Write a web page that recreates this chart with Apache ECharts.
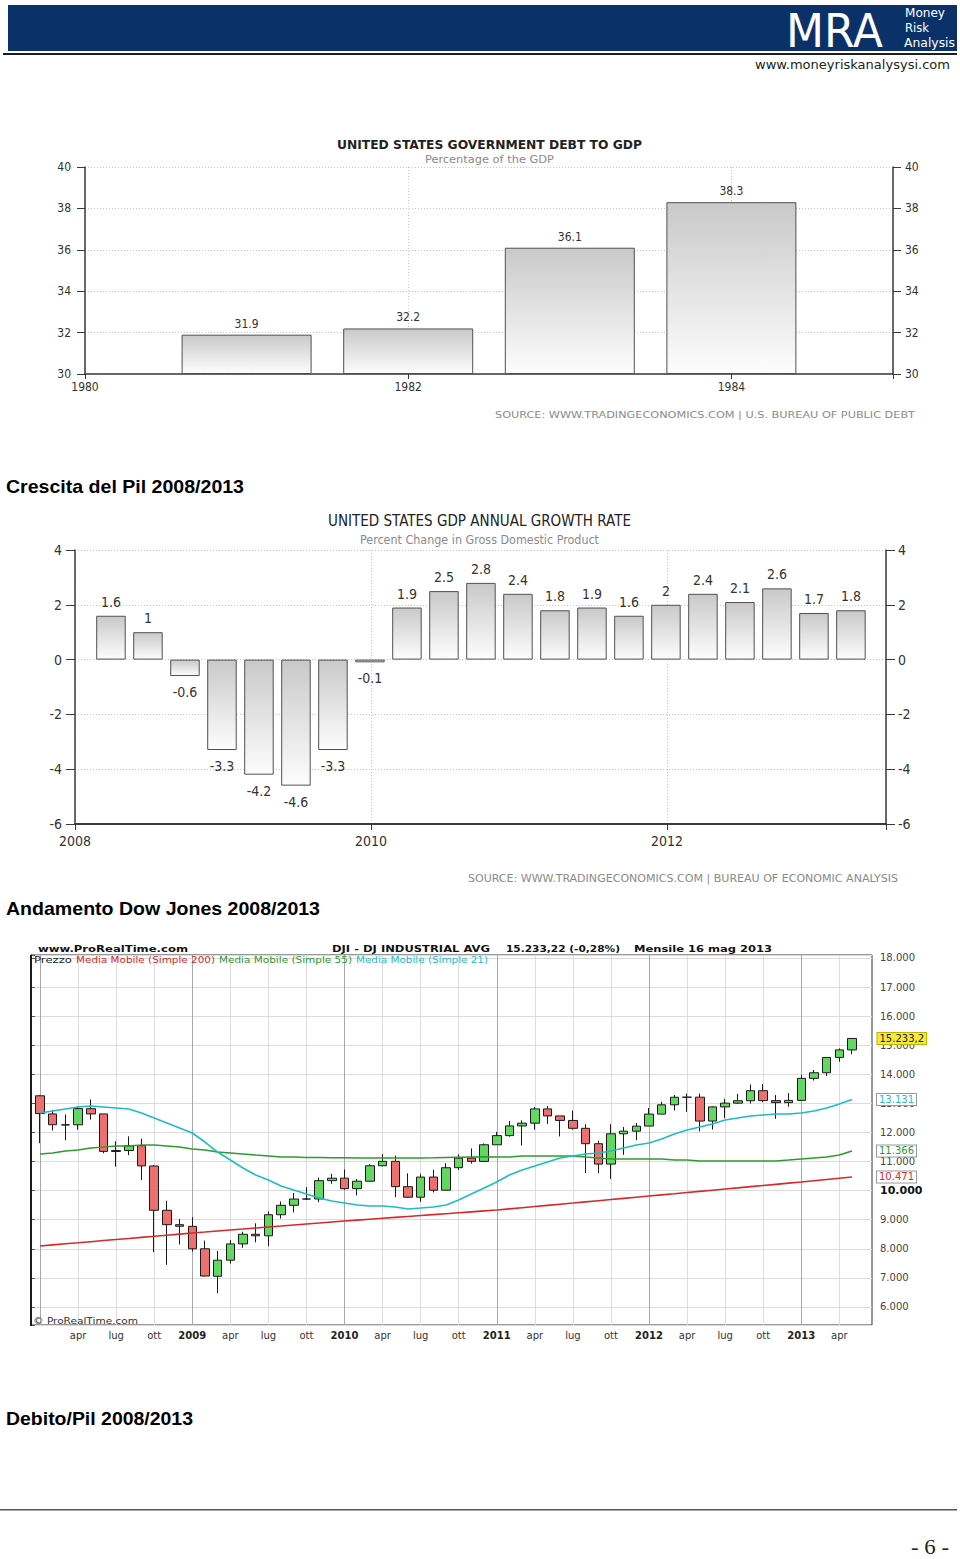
<!DOCTYPE html>
<html><head><meta charset="utf-8"><title>MRA - pagina 6</title>
<script src="https://cdn.jsdelivr.net/npm/echarts@6.0.0/dist/echarts.min.js"></script>
<style>
html,body{margin:0;padding:0;background:#fff;}
#page{position:relative;width:960px;height:1559px;overflow:hidden;background:#fff;}
#chart{position:absolute;left:0;top:0;width:960px;height:1559px;}
#overlay{position:absolute;left:0;top:0;width:960px;height:1559px;pointer-events:none;}
</style></head><body>
<div id="page">
<div id="chart"></div>
<svg id="overlay" width="960" height="1559" xmlns="http://www.w3.org/2000/svg">
  <rect x="8" y="5" width="949" height="46" fill="#0b3268"/>
  <rect x="3" y="53" width="954" height="2" fill="#1e1e1e"/>
  <text x="786" y="47" font-family="'DejaVu Sans',sans-serif" font-size="47" fill="#ffffff" textLength="97" lengthAdjust="spacingAndGlyphs">MRA</text>
  <text x="905" y="17" font-family="'DejaVu Sans',sans-serif" font-size="12" fill="#ffffff" textLength="40" lengthAdjust="spacingAndGlyphs">Money</text>
  <text x="905" y="32" font-family="'DejaVu Sans',sans-serif" font-size="12" fill="#ffffff" textLength="24" lengthAdjust="spacingAndGlyphs">Risk</text>
  <text x="904" y="47" font-family="'DejaVu Sans',sans-serif" font-size="12" fill="#ffffff" textLength="51" lengthAdjust="spacingAndGlyphs">Analysis</text>
  <text x="755" y="69" font-family="'DejaVu Sans',sans-serif" font-size="13" fill="#222" textLength="195" lengthAdjust="spacingAndGlyphs">www.moneyriskanalysysi.com</text>

  <text x="337" y="148.5" font-family="'DejaVu Sans Condensed','Liberation Sans Narrow','DejaVu Sans',sans-serif" font-weight="bold" font-size="12" fill="#222" textLength="305" lengthAdjust="spacingAndGlyphs">UNITED STATES GOVERNMENT DEBT TO GDP</text>
  <text x="425" y="162.5" font-family="'DejaVu Sans Condensed','Liberation Sans Narrow','DejaVu Sans',sans-serif" font-size="10" fill="#8a8a8a" textLength="129" lengthAdjust="spacingAndGlyphs">Percentage of the GDP</text>
  <text x="495" y="418" font-family="'DejaVu Sans Condensed','Liberation Sans Narrow','DejaVu Sans',sans-serif" font-size="9" fill="#8a8a8a" textLength="420" lengthAdjust="spacingAndGlyphs">SOURCE:  WWW.TRADINGECONOMICS.COM  |  U.S.  BUREAU  OF  PUBLIC  DEBT</text>

  <text x="6" y="493" font-family="'Liberation Sans',Arial,sans-serif" font-weight="bold" font-size="19" fill="#000" textLength="238" lengthAdjust="spacingAndGlyphs">Crescita del Pil 2008/2013</text>

  <text x="328" y="526" font-family="'DejaVu Sans Condensed','Liberation Sans Narrow','DejaVu Sans',sans-serif" font-size="16" fill="#222" textLength="303" lengthAdjust="spacingAndGlyphs">UNITED STATES GDP ANNUAL GROWTH RATE</text>
  <text x="360" y="544" font-family="'DejaVu Sans Condensed','Liberation Sans Narrow','DejaVu Sans',sans-serif" font-size="11.5" fill="#8a8a8a" textLength="239" lengthAdjust="spacingAndGlyphs">Percent Change in Gross Domestic Product</text>
  <text x="468" y="881.5" font-family="'DejaVu Sans Condensed','Liberation Sans Narrow','DejaVu Sans',sans-serif" font-size="10.5" fill="#8a8a8a" textLength="430" lengthAdjust="spacingAndGlyphs">SOURCE:  WWW.TRADINGECONOMICS.COM  |  BUREAU  OF  ECONOMIC  ANALYSIS</text>

  <text x="6" y="915" font-family="'Liberation Sans',Arial,sans-serif" font-weight="bold" font-size="19" fill="#000" textLength="314" lengthAdjust="spacingAndGlyphs">Andamento Dow Jones 2008/2013</text>

  <text x="38" y="951.5" font-family="'DejaVu Sans',Verdana,sans-serif" font-weight="bold" font-size="9.5" fill="#111" textLength="150" lengthAdjust="spacingAndGlyphs">www.ProRealTime.com</text>
  <text x="332" y="951.5" font-family="'DejaVu Sans',Verdana,sans-serif" font-weight="bold" font-size="9.5" fill="#111" textLength="158" lengthAdjust="spacingAndGlyphs">DJI - DJ INDUSTRIAL AVG</text>
  <text x="506" y="951.5" font-family="'DejaVu Sans',Verdana,sans-serif" font-weight="bold" font-size="9.5" fill="#111" textLength="114" lengthAdjust="spacingAndGlyphs">15.233,22 (-0,28%)</text>
  <text x="634" y="951.5" font-family="'DejaVu Sans',Verdana,sans-serif" font-weight="bold" font-size="9.5" fill="#111" textLength="138" lengthAdjust="spacingAndGlyphs">Mensile  16 mag 2013</text>

  <text x="34" y="963" font-family="'DejaVu Sans',Verdana,sans-serif" font-size="8.5" fill="#222" textLength="38" lengthAdjust="spacingAndGlyphs">Prezzo</text>
  <text x="76" y="963" font-family="'DejaVu Sans',Verdana,sans-serif" font-size="8.5" fill="#d42a2a" textLength="139" lengthAdjust="spacingAndGlyphs">Media Mobile (Simple 200)</text>
  <text x="219" y="963" font-family="'DejaVu Sans',Verdana,sans-serif" font-size="8.5" fill="#2f9a2f" textLength="133" lengthAdjust="spacingAndGlyphs">Media Mobile (Simple 55)</text>
  <text x="356" y="963" font-family="'DejaVu Sans',Verdana,sans-serif" font-size="8.5" fill="#1fbcc4" textLength="132" lengthAdjust="spacingAndGlyphs">Media Mobile (Simple 21)</text>
  <text x="33" y="1323.5" font-family="'DejaVu Sans',Verdana,sans-serif" font-size="8.5" fill="#333" textLength="105" lengthAdjust="spacingAndGlyphs">© ProRealTime.com</text>
  <rect x="30" y="955" width="2" height="371" fill="#1a1a1a"/>

  <text x="6" y="1425" font-family="'Liberation Sans',Arial,sans-serif" font-weight="bold" font-size="19" fill="#000" textLength="187" lengthAdjust="spacingAndGlyphs">Debito/Pil 2008/2013</text>

  <rect x="0" y="1509" width="957" height="1.5" fill="#555"/>
  <text x="911" y="1554" font-family="'Liberation Serif','DejaVu Serif',serif" font-size="20" fill="#222" textLength="38" lengthAdjust="spacingAndGlyphs">- 6 -</text>
</svg>
</div>
<script>
// ---------- Chart 1: government debt to GDP ----------
const debtYears = [1981, 1982, 1983, 1984];
const debtValues = [31.9, 32.2, 36.1, 38.3];

// ---------- Chart 2: GDP annual growth rate (quarterly) ----------
const gdpQuarters = ['2008 Q1','2008 Q2','2008 Q3','2008 Q4','2009 Q1','2009 Q2','2009 Q3','2009 Q4',
  '2010 Q1','2010 Q2','2010 Q3','2010 Q4','2011 Q1','2011 Q2','2011 Q3','2011 Q4',
  '2012 Q1','2012 Q2','2012 Q3','2012 Q4','2013 Q1'];
const gdpValues = [1.6, 1, -0.6, -3.3, -4.2, -4.6, -3.3, -0.1, 1.9, 2.5, 2.8, 2.4, 1.8, 1.9, 1.6, 2, 2.4, 2.1, 2.6, 1.7, 1.8];

// ---------- Chart 3: Dow Jones monthly ----------
const djiMonths = ['2008-01','2008-02','2008-03','2008-04','2008-05','2008-06','2008-07','2008-08','2008-09','2008-10','2008-11','2008-12',
  '2009-01','2009-02','2009-03','2009-04','2009-05','2009-06','2009-07','2009-08','2009-09','2009-10','2009-11','2009-12',
  '2010-01','2010-02','2010-03','2010-04','2010-05','2010-06','2010-07','2010-08','2010-09','2010-10','2010-11','2010-12',
  '2011-01','2011-02','2011-03','2011-04','2011-05','2011-06','2011-07','2011-08','2011-09','2011-10','2011-11','2011-12',
  '2012-01','2012-02','2012-03','2012-04','2012-05','2012-06','2012-07','2012-08','2012-09','2012-10','2012-11','2012-12',
  '2013-01','2013-02','2013-03','2013-04','2013-05'];
const djiOpen = [13262, 12638, 12259, 12264, 12818, 12638, 11347, 11378, 11546, 10847, 9325, 8829,
  8772, 8001, 7056, 7609, 8168, 8500, 8447, 9172, 9496, 9712, 9713, 10344,
  10430, 10068, 10325, 10857, 11009, 10137, 9774, 10468, 10016, 10789, 11120, 11006,
  11577, 11892, 12226, 12320, 12811, 12570, 12414, 12143, 11614, 10913, 11955, 12046,
  12221, 12632, 12952, 13212, 13214, 12393, 12880, 13009, 13091, 13437, 13096, 13026,
  13104, 13861, 14054, 14580, 14840];
const djiClose = [12650, 12266, 12263, 12820, 12638, 11350, 11378, 11544, 10851, 9325, 8829, 8776,
  8001, 7063, 7609, 8168, 8500, 8447, 9172, 9496, 9712, 9713, 10344, 10428,
  10067, 10325, 10857, 11009, 10137, 9774, 10466, 10015, 10788, 11118, 11006, 11578,
  11892, 12226, 12320, 12811, 12570, 12414, 12143, 11614, 10913, 11955, 12046, 12218,
  12633, 12952, 13212, 13214, 12393, 12880, 13009, 13091, 13437, 13096, 13026, 13104,
  13861, 14054, 14579, 14840, 15233.22];
const djiLow = [11635, 12069, 11732, 12093, 12443, 11287, 10828, 11222, 10365, 7883, 7449, 8149,
  7909, 7050, 6470, 7490, 8035, 8222, 8087, 9040, 9252, 9678, 9601, 10236,
  10034, 9835, 10314, 10835, 9774, 9757, 9614, 9937, 10015, 10711, 10929, 11006,
  11576, 11852, 11555, 12094, 12298, 11862, 12093, 10605, 10597, 10404, 11231, 11735,
  12218, 12630, 12756, 12710, 12035, 12101, 12492, 12978, 12994, 13036, 12471, 12884,
  13104, 13784, 13937, 14434, 14688];
const djiHigh = [13280, 12768, 12622, 12892, 13137, 12638, 11698, 11867, 11790, 10883, 9654, 9026,
  9088, 8281, 7924, 8302, 8588, 8877, 9288, 9631, 9918, 10119, 10450, 10580,
  10729, 10401, 10907, 11258, 11205, 10595, 10581, 10720, 10948, 11246, 11452, 11625,
  12021, 12392, 12419, 12876, 12907, 12570, 12753, 12285, 11717, 12284, 12187, 12330,
  12842, 13055, 13289, 13338, 13339, 12898, 13159, 13330, 13653, 13662, 13290, 13354,
  13969, 14149, 14585, 14888, 15251];
const ma200 = [8096, 8135, 8172, 8208, 8245, 8283, 8320, 8356, 8394, 8430, 8468, 8505,
  8543, 8577, 8612, 8646, 8680, 8715, 8749, 8783, 8818, 8852, 8886, 8921,
  8955, 8987, 9018, 9050, 9081, 9113, 9145, 9176, 9208, 9240, 9271, 9303,
  9334, 9374, 9414, 9454, 9494, 9534, 9574, 9615, 9655, 9695, 9735, 9775,
  9815, 9855, 9895, 9936, 9976, 10016, 10056, 10096, 10137, 10177, 10217, 10257,
  10297, 10340, 10384, 10428, 10471];
const ma55 = [11260, 11294, 11363, 11397, 11466, 11500, 11535, 11535, 11569, 11569, 11535, 11500,
  11432, 11397, 11328, 11294, 11260, 11225, 11191, 11156, 11156, 11140, 11140, 11130,
  11130, 11125, 11125, 11122, 11122, 11122, 11125, 11130, 11140, 11150, 11156, 11160,
  11156, 11156, 11191, 11191, 11191, 11191, 11191, 11156, 11122, 11088, 11088, 11088,
  11088, 11088, 11053, 11053, 11019, 11019, 11019, 11019, 11019, 11019, 11019, 11053,
  11088, 11122, 11156, 11225, 11366];
const ma21 = [12670, 12738, 12807, 12876, 12910, 12876, 12842, 12807, 12670, 12498, 12326, 12154,
  11982, 11672, 11328, 11053, 10778, 10537, 10365, 10159, 10021, 9884, 9746, 9643,
  9574, 9505, 9471, 9471, 9437, 9368, 9402, 9437, 9505, 9677, 9884, 10090,
  10297, 10537, 10709, 10847, 10984, 11122, 11191, 11259, 11294, 11363, 11466, 11569,
  11638, 11775, 11947, 12085, 12188, 12291, 12429, 12498, 12567, 12601, 12635, 12635,
  12670, 12738, 12842, 12979, 13131];
const monthNames = ['gen','feb','mar','apr','mag','giu','lug','ago','set','ott','nov','dic'];

// ---------- helpers ----------
const COND = "'DejaVu Sans Condensed','Liberation Sans Narrow','Roboto Condensed','DejaVu Sans',sans-serif";
const VERD = "'DejaVu Sans',Verdana,sans-serif";
const AX = '#3a3a3a';
function qPos(s){ const p = s.split(' Q'); return Number(p[0]) + Number(p[1]) * 0.25 - 0.007; }
function thou(v){ const k = Math.floor(v / 1000), r = Math.round(v % 1000); return k + '.' + String(r).padStart(3, '0'); }
function barGrad(){ return new echarts.graphic.LinearGradient(0, 0, 0, 1, [{offset:0, color:'#c9c9c9'}, {offset:1, color:'#fdfdfd'}]); }
const dotted = {show:true, lineStyle:{color:'#c4c4c4', type:[1,2], width:1}};

const chart = echarts.init(document.getElementById('chart'), null, {renderer:'svg', width:960, height:1559});

const option = {
  animation:false,
  backgroundColor:'transparent',
  grid:[
    {left:85, top:167, width:808, height:207},
    {left:75, top:550, width:811, height:274},
    {left:31, top:955, width:841, height:370, show:true, borderColor:'#333', borderWidth:1, backgroundColor:'rgba(0,0,0,0)'},
    {left:40, top:955, width:812, height:370}
  ],
  xAxis:[
    {gridIndex:0, type:'value', min:1980, max:1985, interval:2,
     axisLine:{show:true, onZero:false, lineStyle:{color:AX, width:1.5}},
     axisTick:{show:true, length:5, lineStyle:{color:AX}},
     axisLabel:{margin:7, fontSize:12, color:'#333', fontFamily:COND, formatter:v => (v % 2 === 0 ? String(v) : '')},
     splitLine:dotted},
    {gridIndex:1, type:'value', min:2008, max:2013.48, interval:2,
     axisLine:{show:true, onZero:false, lineStyle:{color:AX, width:2}},
     axisTick:{show:true, length:6, lineStyle:{color:AX}},
     axisLabel:{margin:10, fontSize:14, color:'#333', fontFamily:COND, formatter:v => (v % 2 === 0 ? String(v) : '')},
     splitLine:dotted},
    {gridIndex:2, type:'value', min:0, max:1, show:false},
    {gridIndex:3, type:'category', data:djiMonths, boundaryGap:false,
     axisLine:{show:false}, axisTick:{show:false},
     axisLabel:{interval:(i) => i > 0 && i % 3 === 0, margin:5, fontSize:10, color:'#333', fontFamily:VERD,
       formatter:(v) => { const p = v.split('-'); const m = Number(p[1]); return m === 1 ? '{y|' + p[0] + '}' : monthNames[m - 1]; },
       rich:{y:{fontWeight:'bold', fontSize:10, color:'#222', fontFamily:VERD}}},
     splitLine:{show:true, interval:(i) => i % 3 === 0, lineStyle:{color:['#a9a9a9','#dcdcdc','#dcdcdc','#dcdcdc'], width:1}}}
  ],
  yAxis:[
    {gridIndex:0, type:'value', min:30, max:40, interval:2, startValue:30, position:'left',
     axisLine:{show:true, lineStyle:{color:AX, width:1.5}}, axisTick:{show:true, length:8, lineStyle:{color:AX}},
     axisLabel:{margin:14, fontSize:12, color:'#333', fontFamily:COND}, splitLine:dotted},
    {gridIndex:0, type:'value', min:30, max:40, interval:2, startValue:30, position:'right',
     axisLine:{show:true, lineStyle:{color:AX, width:1.5}}, axisTick:{show:true, length:8, lineStyle:{color:AX}},
     axisLabel:{margin:12, fontSize:12, color:'#333', fontFamily:COND}, splitLine:{show:false}},
    {gridIndex:1, type:'value', min:-6, max:4, interval:2, position:'left',
     axisLine:{show:true, lineStyle:{color:AX, width:1.5}}, axisTick:{show:true, length:9, lineStyle:{color:AX}},
     axisLabel:{margin:13, fontSize:14, color:'#333', fontFamily:COND}, splitLine:dotted},
    {gridIndex:1, type:'value', min:-6, max:4, interval:2, position:'right',
     axisLine:{show:true, lineStyle:{color:AX, width:1.5}}, axisTick:{show:true, length:9, lineStyle:{color:AX}},
     axisLabel:{margin:12, fontSize:14, color:'#333', fontFamily:COND}, splitLine:{show:false}},
    {gridIndex:2, type:'value', min:5380, max:18103, splitNumber:12, position:'right',
     axisLine:{show:true, lineStyle:{color:'#333', width:1}}, axisTick:{show:true, length:4, lineStyle:{color:'#555'}},
     axisLabel:{margin:8, fontSize:10, color:'#444', fontFamily:VERD,
       formatter:(v) => (Math.round(v) % 1000 !== 0 ? '' : (v === 10000 ? '{b|' + thou(v) + '}' : thou(v))),
       rich:{b:{fontWeight:'bold', fontSize:11, color:'#111', fontFamily:VERD}}},
     splitLine:{show:true, lineStyle:{color:'#dcdcdc', width:1}}},
    {gridIndex:3, type:'value', min:5380, max:18103, splitNumber:12, show:false}
  ],
  series:[
    {type:'bar', name:'Debt to GDP', xAxisIndex:0, yAxisIndex:0, barWidth:130,
     data:debtYears.map((y, i) => [y, debtValues[i]]),
     itemStyle:{color:barGrad(), borderColor:'#505050', borderWidth:1},
     label:{show:true, position:'top', distance:5, fontSize:12, color:'#333', fontFamily:COND, formatter:p => String(p.value[1])}},
    {type:'bar', name:'GDP growth', xAxisIndex:1, yAxisIndex:2, barWidth:29.5,
     data:gdpQuarters.map((q, i) => ({value:[qPos(q), gdpValues[i]],
       label:{position:gdpValues[i] < 0 ? 'bottom' : 'top', distance:gdpValues[i] < 0 ? 9 : 7}})),
     itemStyle:{color:barGrad(), borderColor:'#505050', borderWidth:1},
     label:{show:true, fontSize:14, color:'#333', fontFamily:COND, formatter:p => String(p.value[1])}},
    {type:'candlestick', name:'Prezzo', xAxisIndex:3, yAxisIndex:5, clip:false, barWidth:9, z:2,
     data:djiMonths.map((m, i) => [djiOpen[i], djiClose[i], djiLow[i], djiHigh[i]]),
     itemStyle:{color:'#62d862', color0:'#ec7070', borderColor:'#1a1a1a', borderColor0:'#1a1a1a', borderColorDoji:'#1a1a1a', borderWidth:1},
     markPoint:{symbol:'rect', symbolSize:[1,1], itemStyle:{color:'rgba(0,0,0,0)'}, z:10,
       data:[{coord:[djiMonths[djiMonths.length - 1], djiClose[djiClose.length - 1]]}],
       label:{show:true, position:'right', distance:25, fontSize:10, color:'#222', fontFamily:VERD,
         backgroundColor:'#f4ea3c', borderColor:'#c4b000', borderWidth:1, padding:[1,2,0,2],
         formatter:() => { const v = djiClose[djiClose.length - 1]; return thou(Math.floor(v)) + ',' + Math.round((v % 1) * 10); }}}},
    {type:'line', name:'Media Mobile (Simple 200)', xAxisIndex:3, yAxisIndex:5, data:ma200, symbol:'none', clip:false, z:3,
     lineStyle:{color:'#d42a2a', width:1.6}, itemStyle:{color:'#d42a2a'},
     endLabel:{show:true, distance:25, formatter:() => thou(ma200[ma200.length - 1]), fontSize:10, color:'#d42a2a', fontFamily:VERD,
       backgroundColor:'#fff', borderColor:'#999', borderWidth:1, padding:[1,2,0,2]}},
    {type:'line', name:'Media Mobile (Simple 55)', xAxisIndex:3, yAxisIndex:5, data:ma55, symbol:'none', clip:false, z:3,
     lineStyle:{color:'#2f9a2f', width:1.6}, itemStyle:{color:'#2f9a2f'},
     endLabel:{show:true, distance:25, formatter:() => thou(ma55[ma55.length - 1]), fontSize:10, color:'#2f9a2f', fontFamily:VERD,
       backgroundColor:'#fff', borderColor:'#999', borderWidth:1, padding:[1,2,0,2]}},
    {type:'line', name:'Media Mobile (Simple 21)', xAxisIndex:3, yAxisIndex:5, data:ma21, symbol:'none', clip:false, z:3,
     lineStyle:{color:'#1fbcc4', width:1.6}, itemStyle:{color:'#1fbcc4'},
     endLabel:{show:true, distance:25, formatter:() => thou(ma21[ma21.length - 1]), fontSize:10, color:'#1fbcc4', fontFamily:VERD,
       backgroundColor:'#fff', borderColor:'#999', borderWidth:1, padding:[1,2,0,2]}}
  ]
};
chart.setOption(option);
</script>
</body></html>
